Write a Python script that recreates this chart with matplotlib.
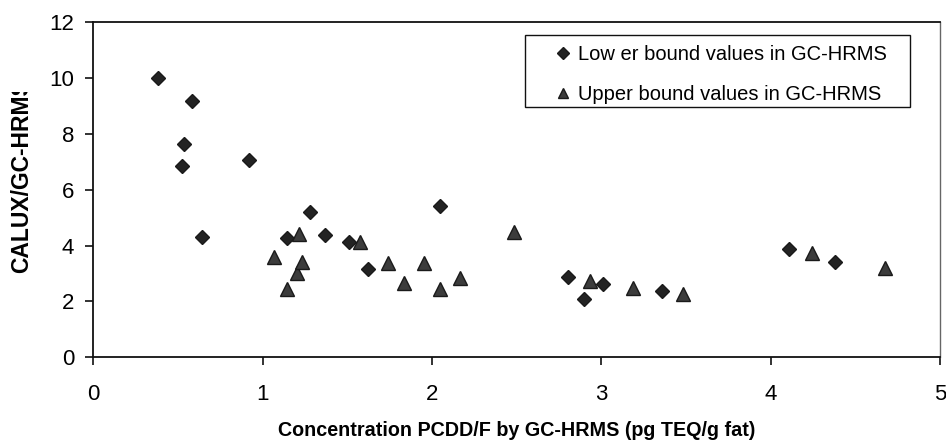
import matplotlib
matplotlib.use("Agg")
import matplotlib.pyplot as plt
from matplotlib.patches import Rectangle
from matplotlib.transforms import Bbox, TransformedBbox

plt.rcParams['font.family'] = ['Liberation Sans', 'DejaVu Sans']

# lower bound values (diamonds)
lower_x = [0.38, 0.525, 0.535, 0.58, 0.64, 0.92, 1.145, 1.28, 1.365, 1.51, 1.62, 2.045,
           2.805, 2.90, 3.01, 3.355, 4.105, 4.38]
lower_y = [10.0, 6.86, 7.64, 9.16, 4.32, 7.05, 4.26, 5.21, 4.36, 4.14, 3.16, 5.42,
           2.89, 2.09, 2.63, 2.38, 3.88, 3.40]

# upper bound values (triangles)
upper_x = [1.065, 1.145, 1.20, 1.215, 1.23, 1.575, 1.74, 1.835, 1.955, 2.045, 2.165, 2.485,
           2.935, 3.185, 3.48, 4.245, 4.675]
upper_y = [3.60, 2.44, 3.03, 4.41, 3.40, 4.11, 3.37, 2.65, 3.37, 2.45, 2.85, 4.47,
           2.73, 2.47, 2.26, 3.73, 3.19]

x_ticks = [0, 1, 2, 3, 4, 5]
y_ticks = [0, 2, 4, 6, 8, 10, 12]

fig = plt.figure(figsize=(9.46, 4.48), dpi=100)
ax = fig.add_axes([0.0988, 0.2025, 0.8949, 0.7485])

ax.plot(lower_x, lower_y, linestyle='none', marker='D', ms=7.3,
        color='#232323', mec='#1a1a1a', label='Low er bound values in GC-HRMS')
ax.plot(upper_x, upper_y, linestyle='none', marker='^', ms=9.8,
        color='#3c3c3c', mec='#1a1a1a', label='Upper bound values in GC-HRMS')

ax.set_xlim(0, 5)
ax.set_ylim(0, 12)
ax.set_xticks(x_ticks)
ax.set_yticks(y_ticks)
ax.tick_params(direction='out', length=6, width=1.2, labelsize=16, color='#111111')
ax.tick_params(axis='x', pad=13)
ax.tick_params(axis='y', pad=8)

for side in ['left', 'bottom', 'top']:
    ax.spines[side].set_linewidth(1.3)
    ax.spines[side].set_color('#111111')
ax.spines['right'].set_linewidth(1.0)
ax.spines['right'].set_color('#666666')
ax.spines['right'].set_linestyle((0, (2, 1)))

ax.set_xlabel('Concentration PCDD/F by GC-HRMS (pg TEQ/g fat)', fontsize=14.2,
              fontweight='bold', labelpad=12)

# y label is cut off at the top, as in the original layout
ylab = fig.text(0.023, 1 - 273 / 448, 'CALUX/GC-HRMS', rotation=90, ha='center',
                va='bottom', fontsize=16.5, fontweight='bold')
ylab.set_clip_box(TransformedBbox(Bbox.from_extents(0, 0, 1, 1 - 92 / 448), fig.transFigure))
ylab.set_clip_on(True)

# legend entries without frame, box drawn separately (wide right margin)
leg = ax.legend(loc='upper left', bbox_to_anchor=(0.5428, 0.930), fontsize=14.5,
                frameon=False, markerscale=0.8, handlelength=1.0,
                handletextpad=0.25, labelspacing=1.0, borderpad=0, borderaxespad=0)
ax.add_patch(Rectangle((0.5097, 0.7465), 0.4548, 0.2147, transform=ax.transAxes,
                       fill=False, edgecolor='#111111', linewidth=1.0, zorder=5))

fig.savefig('out.png', dpi=100)
